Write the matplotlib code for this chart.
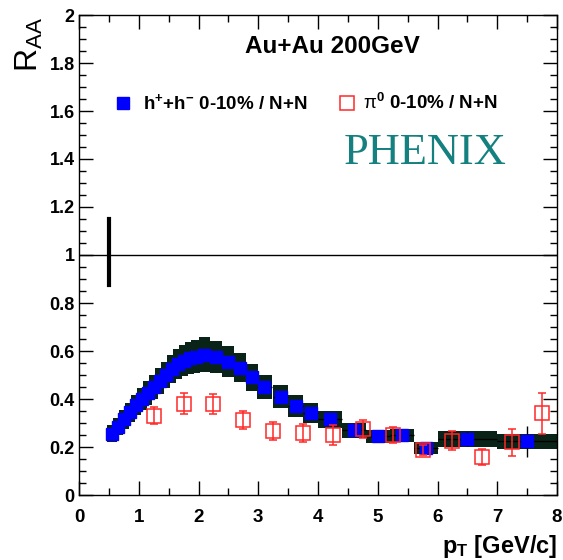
import numpy as np
import matplotlib
matplotlib.use("Agg")
import matplotlib.pyplot as plt
from matplotlib.patches import Rectangle
from matplotlib.ticker import MultipleLocator, FormatStrFormatter

plt.rcParams['font.family'] = ['Liberation Sans', 'DejaVu Sans']
plt.rcParams['mathtext.fontset'] = 'custom'
plt.rcParams['mathtext.rm'] = 'Liberation Sans'
plt.rcParams['mathtext.bf'] = 'Liberation Sans:bold'
plt.rcParams['mathtext.it'] = 'Liberation Sans:italic'

# ----------- Data: charged hadrons 0-10% -----------
h_pt = [0.55, 0.65, 0.75, 0.85, 0.95, 1.05, 1.15, 1.25, 1.35, 1.45,
        1.55, 1.65, 1.75, 1.85, 1.95, 2.1, 2.3, 2.5, 2.7, 2.9,
        3.1, 3.375, 3.625, 3.875, 4.2, 4.6, 5.0, 5.4, 5.8, 6.5, 7.5]
h_raa = [0.256, 0.285, 0.315, 0.345, 0.375, 0.40, 0.425, 0.45, 0.475, 0.50,
         0.525, 0.545, 0.56, 0.57, 0.577, 0.585, 0.575, 0.555, 0.53, 0.49,
         0.45, 0.41, 0.37, 0.34, 0.315, 0.27, 0.245, 0.248, 0.196, 0.233, 0.223]
h_halfw = [0.05] * 15 + [0.1] * 5 + [0.125] * 4 + [0.2] * 5 + [0.5] * 2
h_sys = [0.036, 0.037, 0.038, 0.04, 0.042, 0.045, 0.048, 0.05, 0.053, 0.056,
         0.059, 0.062, 0.065, 0.067, 0.069, 0.072, 0.068, 0.064, 0.06, 0.056,
         0.052, 0.048, 0.045, 0.042, 0.036, 0.032, 0.027, 0.027, 0.025, 0.035, 0.033]
h_stat = [0.003] * 24 + [0.008, 0.01, 0.012, 0.015, 0.018, 0.03, 0.063]

# ----------- Data: pi0 0-10% -----------
pi_pt = [1.25, 1.75, 2.25, 2.75, 3.25, 3.75, 4.25, 4.75, 5.25, 5.75, 6.25, 6.75, 7.25, 7.75]
pi_raa = [0.33, 0.381, 0.379, 0.3125, 0.267, 0.258, 0.25, 0.275, 0.25, 0.1875,
          0.227, 0.158, 0.219, 0.34]
pi_err = [0.035, 0.042, 0.043, 0.037, 0.037, 0.037, 0.04, 0.037, 0.035, 0.02,
          0.04, 0.035, 0.055, 0.087]

# global normalisation uncertainty
norm_x = 0.5
norm_lo, norm_hi = 0.875, 1.15

band_color = '#0a2318'
red = '#ff2828'

fig = plt.figure(figsize=(5.63, 5.60), dpi=100)
ax = fig.add_axes([79 / 563, 65 / 560, 478 / 563, 480 / 560])

# systematic boxes (low-pT boxes drawn a bit wider than the bin spacing)
for x, y, hw, s in zip(h_pt, h_raa, h_halfw, h_sys):
    w = max(hw, 0.08)
    ax.add_patch(Rectangle((x - w, y - s), 2 * w, 2 * s,
                           facecolor=band_color, edgecolor='none', zorder=2))

ax.errorbar(h_pt, h_raa, xerr=h_halfw, yerr=h_stat, fmt='none',
            ecolor='black', elinewidth=1, capsize=0, zorder=3)
ax.plot(h_pt, h_raa, ls='none', marker='s', ms=8.6, mfc='#0000ff',
        mec='#0000ff', zorder=4)

ax.errorbar(pi_pt, pi_raa, yerr=pi_err, fmt='s', ms=9.5, mfc='none',
            mec=red, mew=1.1, ecolor=red, elinewidth=1.1, capsize=3,
            capthick=1.1, zorder=5)

ax.axhline(1.0, color='black', lw=1, zorder=1)
ax.plot([norm_x, norm_x], [norm_lo, norm_hi], color='black', lw=3, zorder=2)

ax.set_xlim(0, 8)
ax.set_ylim(0, 2)
ax.xaxis.set_major_locator(MultipleLocator(1))
ax.xaxis.set_minor_locator(MultipleLocator(0.5))
ax.yaxis.set_major_locator(MultipleLocator(0.2))
ax.yaxis.set_minor_locator(MultipleLocator(0.05))
ax.yaxis.set_major_formatter(FormatStrFormatter('%g'))
ax.tick_params(which='both', direction='in', top=True, right=True,
               width=1, color='black')
ax.tick_params(which='major', length=10)
ax.tick_params(which='minor', length=5)
ax.tick_params(axis='x', which='major', pad=10, labelsize=13.5)
ax.tick_params(axis='y', which='major', pad=3, labelsize=13)
for lab in ax.get_xticklabels() + ax.get_yticklabels():
    lab.set_fontweight('bold')
for sp in ax.spines.values():
    sp.set_linewidth(1)

ax.set_xlabel(r'p$_\mathbf{T}$ [GeV/c]', fontsize=17, fontweight='bold', loc='right')
ax.xaxis.set_label_coords(1.0, -0.08)
fig.text(0.052, 0.97, r'R$_{\mathrm{AA}}$', rotation=90, ha='center', va='top',
         fontsize=23)

ax.text(0.531, 0.935, 'Au+Au 200GeV', transform=ax.transAxes, ha='center',
        va='center', fontsize=17.5, fontweight='bold')

# legend
ax.plot([0.093], [0.816], transform=ax.transAxes, marker='s', ms=8.6,
        mfc='#0000ff', mec='#0000ff', ls='none', clip_on=False)
ax.text(0.134, 0.816, r'h$^{\mathbf{+}}$+h$^{\mathbf{-}}$ 0-10% / N+N',
        transform=ax.transAxes, ha='left', va='center', fontsize=13.5,
        fontweight='bold')
ax.plot([0.56], [0.816], transform=ax.transAxes, marker='s', ms=9.5,
        mfc='none', mec=red, mew=1.1, ls='none', clip_on=False)
ax.text(0.594, 0.816, r'$\mathrm{\pi}^{\mathbf{0}}$ 0-10% / N+N',
        transform=ax.transAxes, ha='left', va='center', fontsize=13.5,
        fontweight='bold')

ax.text(0.723, 0.7135, 'PHENIX', transform=ax.transAxes, ha='center',
        va='center', fontsize=32, color='#14807f', family='Liberation Serif')

fig.savefig('out.png', dpi=100)
